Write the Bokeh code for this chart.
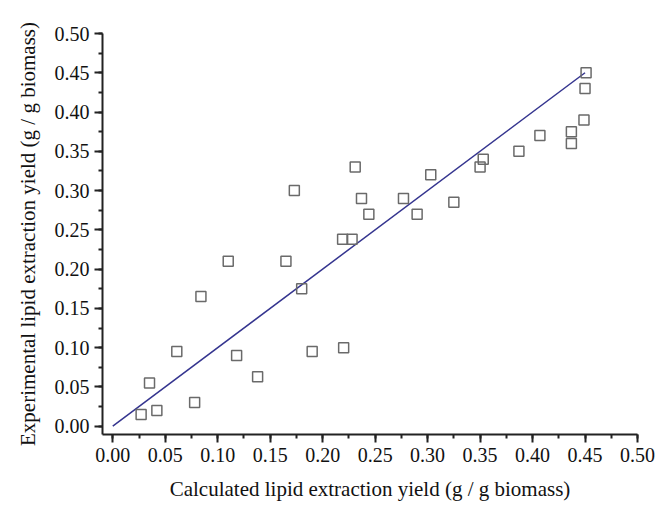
from bokeh.plotting import figure
from bokeh.models import SingleIntervalTicker, NumeralTickFormatter, Range1d
from bokeh.embed import file_html
from bokeh.resources import INLINE

# Calculated vs experimental lipid extraction yield (g / g biomass)
calculated = [0.027, 0.042, 0.035, 0.061, 0.078, 0.084, 0.110, 0.118, 0.138, 0.165,
              0.173, 0.180, 0.190, 0.220, 0.219, 0.228, 0.231, 0.237, 0.244, 0.277,
              0.290, 0.303, 0.325, 0.350, 0.353, 0.387, 0.407, 0.437, 0.437, 0.449,
              0.450, 0.451]
experimental = [0.015, 0.020, 0.055, 0.095, 0.030, 0.165, 0.210, 0.090, 0.063, 0.210,
                0.300, 0.175, 0.095, 0.100, 0.238, 0.238, 0.330, 0.290, 0.270, 0.290,
                0.270, 0.320, 0.285, 0.330, 0.340, 0.350, 0.370, 0.360, 0.375, 0.390,
                0.430, 0.450]
fit_x = [0.0, 0.45]
fit_y = [0.0, 0.45]

FONT = "Liberation Serif"

p = figure(width=662, height=504, output_backend="svg", toolbar_location=None,
           x_range=Range1d(-0.0098, 0.5), y_range=Range1d(-0.0106, 0.5),
           min_border_left=102, min_border_right=25, min_border_top=33, min_border_bottom=70)
p.outline_line_color = None
p.grid.visible = False
p.background_fill_color = "white"

p.line(fit_x, fit_y, line_color="#35358f", line_width=1.5)
p.scatter(calculated, experimental, marker="square", size=10, fill_color=None,
          line_color="#6a6a6a", line_width=1.5)

for ax in (p.xaxis[0], p.yaxis[0]):
    ax.ticker = SingleIntervalTicker(interval=0.05, num_minor_ticks=2)
    ax.formatter = NumeralTickFormatter(format="0.00")
    ax.axis_line_color = "#222222"
    ax.axis_line_width = 2
    ax.major_tick_line_color = "#222222"
    ax.major_tick_line_width = 2
    ax.minor_tick_line_color = "#222222"
    ax.minor_tick_line_width = 2
    ax.major_tick_out = 8
    ax.major_tick_in = 0
    ax.minor_tick_out = 4
    ax.minor_tick_in = 0
    ax.major_label_text_font = FONT
    ax.major_label_text_font_size = "20px"
    ax.major_label_text_color = "#111111"
    ax.axis_label_text_font = FONT
    ax.axis_label_text_font_size = "21px"
    ax.axis_label_text_font_style = "normal"
    ax.axis_label_text_color = "#111111"
    ax.major_label_standoff = 5

p.xaxis.axis_label = "Calculated lipid extraction yield (g / g biomass)"
p.yaxis.axis_label = "Experimental lipid extraction yield (g / g biomass)"
p.xaxis.axis_label_standoff = 12
p.yaxis.axis_label_standoff = 12

open("out.html", "w").write(file_html(p, INLINE))
